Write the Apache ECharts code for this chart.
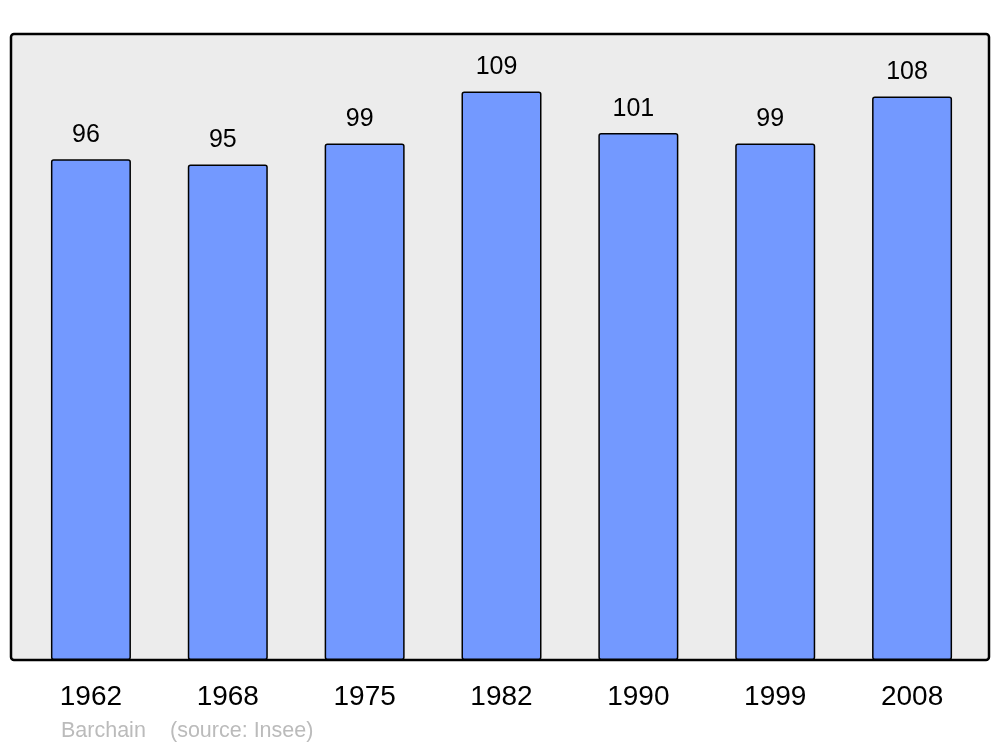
<!DOCTYPE html>
<html><head><meta charset="utf-8">
<script src="https://cdn.jsdelivr.net/npm/echarts@6/dist/echarts.min.js"></script>
<style>html,body{margin:0;padding:0;background:#fff}#c{width:1000px;height:747px}</style>
</head><body><div id="c"></div>
<script>
const categories = ['1962','1968','1975','1982','1990','1999','2008'];
const values = [96, 95, 99, 109, 101, 99, 108];
const sourceLabels = ['Barchain', '(source: Insee)'];

const chart = echarts.init(document.getElementById('c'), null, {renderer: 'canvas'});
const FONT = '"Liberation Sans", Arial, sans-serif';
chart.setOption({
  animation: false,
  backgroundColor: '#fff',
  textStyle: {fontFamily: FONT},
  grid: {left: 22.5, width: 958, top: 34, height: 626, containLabel: false},
  graphic: [
    {type: 'rect', z: -10, shape: {x: 11, y: 34, width: 978, height: 626, r: 3},
     style: {fill: '#ececec', stroke: '#000', lineWidth: 2.5}},
    {type: 'text', left: 61, top: 720, style: {text: sourceLabels[0], fill: '#bbbbbb', font: '21.5px ' + FONT}},
    {type: 'text', left: 170, top: 720, style: {text: sourceLabels[1], fill: '#bbbbbb', font: '21.5px ' + FONT}}
  ],
  xAxis: {
    type: 'category', data: categories,
    axisLine: {show: false}, axisTick: {show: false},
    axisLabel: {color: '#000', fontSize: 28, margin: 23, fontFamily: FONT}
  },
  yAxis: {
    type: 'value', min: 0, max: 120, show: false, splitLine: {show: false}
  },
  series: [{
    type: 'bar', data: values, barWidth: 80, z: 5,
    itemStyle: {color: '#7399ff', borderColor: '#000', borderWidth: 1.5, borderRadius: 2},
    label: {show: true, position: 'top', distance: 12, offset: [-5, 0], color: '#000', fontSize: 25, fontFamily: FONT}
  }]
});
</script></body></html>
